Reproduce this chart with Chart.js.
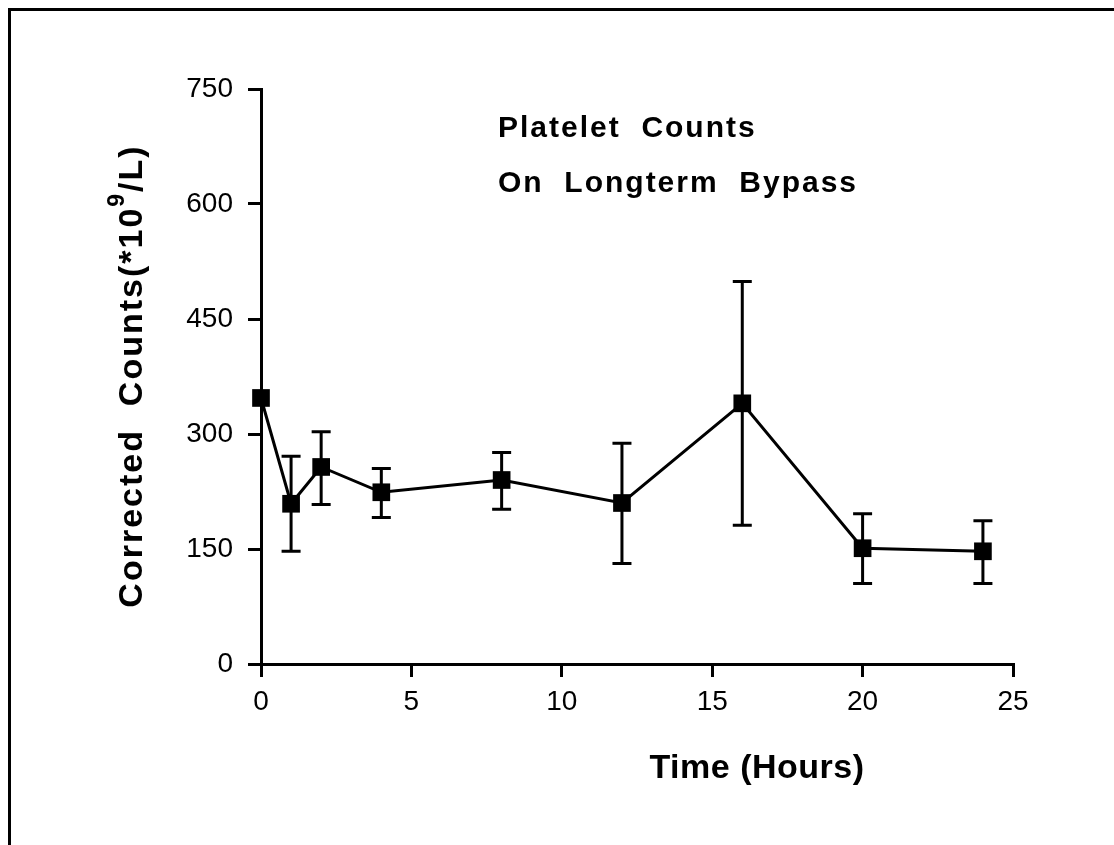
<!DOCTYPE html>
<html>
<head>
<meta charset="utf-8">
<script src="https://cdn.jsdelivr.net/npm/chart.js@4.4.1/dist/chart.umd.min.js"></script>
<style>
html,body{margin:0;padding:0;background:#fff;}
#wrap{position:relative;width:1114px;height:845px;}
</style>
</head>
<body>
<div id="wrap"><canvas id="c" width="1114" height="845"></canvas></div>
<script>
// ---- data ----
const hours   = [0, 1, 2, 4, 8, 12, 16, 20, 24];
const counts  = [347, 209, 257, 224, 240, 210, 340, 151, 147];
const errHigh = [347, 271, 303, 255, 276, 288, 499, 196, 187];
const errLow  = [347, 147, 208, 191, 202, 131, 181, 105, 105];
const xTicks  = [0, 5, 10, 15, 20, 25];
const yTicks  = [0, 150, 300, 450, 600, 750];
const titleLines = ['Platelet  Counts', 'On  Longterm  Bypass'];
const xTitle = 'Time (Hours)';
const yTitleParts = ['Corrected  Counts(*10', '9', '/L)'];

const FONT = '"Liberation Sans", Arial, Helvetica, sans-serif';

const points = hours.map((h, i) => ({x: h, y: counts[i]}));

const framePlugin = {
  id: 'frame',
  beforeDraw(chart) {
    const ctx = chart.ctx;
    ctx.save();
    ctx.fillStyle = '#fff';
    ctx.fillRect(0, 0, chart.width, chart.height);
    ctx.strokeStyle = '#000';
    ctx.lineWidth = 3;
    ctx.beginPath();
    ctx.moveTo(9.5, chart.height + 5);
    ctx.lineTo(9.5, 9.5);
    ctx.lineTo(chart.width + 5, 9.5);
    ctx.stroke();
    ctx.restore();
  }
};

const errorBarPlugin = {
  id: 'errorBars',
  beforeDatasetsDraw(chart) {
    const ctx = chart.ctx;
    const xs = chart.scales.x, ys = chart.scales.y;
    ctx.save();
    ctx.strokeStyle = '#000';
    ctx.lineWidth = 3;
    ctx.lineCap = 'butt';
    const half = 9.5;
    hours.forEach((h, i) => {
      if (errHigh[i] === errLow[i]) return;
      const px = xs.getPixelForValue(h);
      const yH = ys.getPixelForValue(errHigh[i]);
      const yL = ys.getPixelForValue(errLow[i]);
      ctx.beginPath();
      ctx.moveTo(px, yH); ctx.lineTo(px, yL);
      ctx.moveTo(px - half, yH); ctx.lineTo(px + half, yH);
      ctx.moveTo(px - half, yL); ctx.lineTo(px + half, yL);
      ctx.stroke();
    });
    ctx.restore();
  }
};

const textPlugin = {
  id: 'texts',
  afterDraw(chart) {
    const ctx = chart.ctx;
    const ca = chart.chartArea;
    ctx.save();
    ctx.fillStyle = '#000';
    ctx.textBaseline = 'alphabetic';
    // in-plot title
    ctx.font = 'bold 30px ' + FONT;
    ctx.letterSpacing = '2px';
    ctx.textAlign = 'left';
    ctx.fillText(titleLines[0], ca.left + 237, 137);
    ctx.fillText(titleLines[1], ca.left + 237, 192);
    // x title
    ctx.font = 'bold 34px ' + FONT;
    ctx.letterSpacing = '0.5px';
    ctx.textAlign = 'center';
    ctx.fillText(xTitle, ca.left + 496, 778);
    // y title (rotated)
    ctx.translate(142, 376);
    ctx.rotate(-Math.PI / 2);
    ctx.textAlign = 'left';
    ctx.letterSpacing = '2px';
    ctx.font = 'bold 34px ' + FONT;
    const w1 = ctx.measureText(yTitleParts[0]).width;
    const w3 = ctx.measureText(yTitleParts[2]).width;
    ctx.font = 'bold 23px ' + FONT;
    const w2 = ctx.measureText(yTitleParts[1]).width;
    const total = w1 + w2 + w3;
    let x0 = -total / 2;
    ctx.font = 'bold 34px ' + FONT;
    ctx.fillText(yTitleParts[0], x0, 0);
    ctx.font = 'bold 23px ' + FONT;
    ctx.fillText(yTitleParts[1], x0 + w1, -18);
    ctx.font = 'bold 34px ' + FONT;
    ctx.fillText(yTitleParts[2], x0 + w1 + w2, 0);
    ctx.restore();
  }
};

new Chart(document.getElementById('c'), {
  type: 'line',
  data: {
    datasets: [{
      data: points,
      borderColor: '#000',
      borderWidth: 3,
      tension: 0,
      clip: false,
      pointStyle: 'rect',
      pointRadius: 12.5,
      pointHoverRadius: 12.5,
      pointBackgroundColor: '#000',
      pointBorderWidth: 0,
      fill: false
    }]
  },
  options: {
    responsive: false,
    animation: false,
    events: [],
    layout: {padding: {left: 0, top: 89, right: 101, bottom: 0}},
    plugins: {legend: {display: false}, tooltip: {enabled: false}, title: {display: false}},
    scales: {
      x: {
        type: 'linear',
        min: 0, max: 25,
        afterBuildTicks(scale) { scale.ticks = xTicks.map(v => ({value: v})); },
        afterFit(scale) { scale.height = 181; },
        ticks: {color: '#000', padding: 8, font: {family: FONT, size: 28}, maxRotation: 0},
        grid: {drawOnChartArea: false, drawTicks: true, tickLength: 13, color: '#000', lineWidth: 3},
        border: {display: true, color: '#000', width: 3}
      },
      y: {
        type: 'linear',
        min: 0, max: 750,
        afterBuildTicks(scale) { scale.ticks = yTicks.map(v => ({value: v})); },
        afterFit(scale) { scale.width = 261; },
        ticks: {color: '#000', padding: 15, font: {family: FONT, size: 28}},
        grid: {drawOnChartArea: false, drawTicks: true, tickLength: 13, color: '#000', lineWidth: 3},
        border: {display: true, color: '#000', width: 3}
      }
    }
  },
  plugins: [framePlugin, errorBarPlugin, textPlugin]
});
</script>
</body>
</html>
